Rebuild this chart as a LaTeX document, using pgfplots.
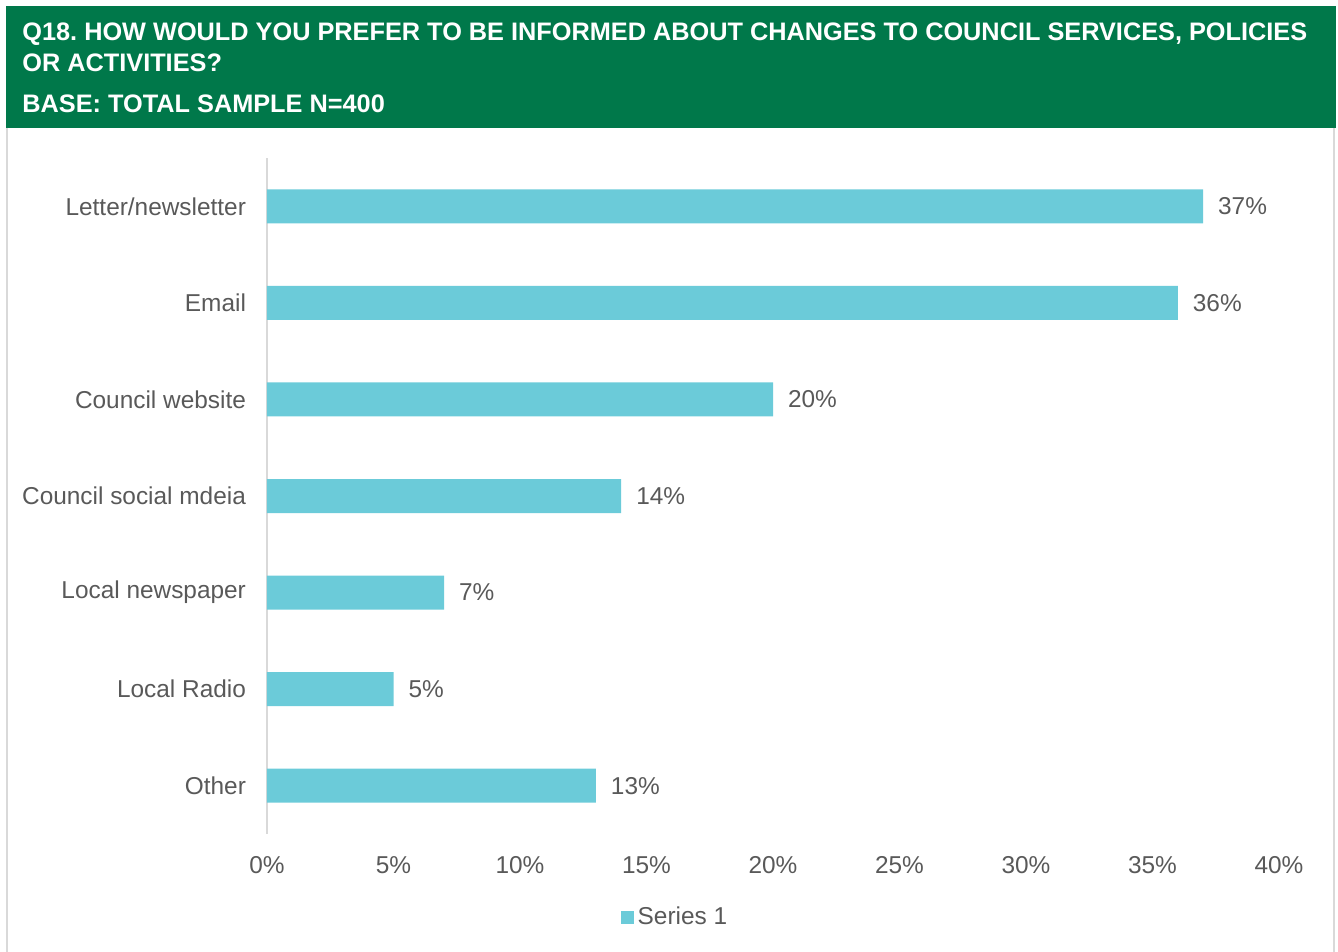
\documentclass[border=0pt]{standalone}
\usepackage{pgfplots}
\pgfplotsset{compat=1.18}
\usepackage{fontspec}
\setmainfont{Liberation Sans}
\frenchspacing
\definecolor{hdr}{HTML}{00784A}
\definecolor{barc}{HTML}{6BCBD9}
\definecolor{txt}{HTML}{595959}
\definecolor{frame}{HTML}{D9D9D9}
\begin{document}
\begin{tikzpicture}
\path[use as bounding box] (0pt,0pt) rectangle (669pt,476pt);
\fill[hdr] (3pt,473pt) rectangle (668pt,412pt);
\draw[frame, line width=0.8pt] (3.4pt,412pt) -- (3.4pt,0pt);
\draw[frame, line width=0.8pt] (667pt,412pt) -- (667pt,0pt);
\node[anchor=base west, inner sep=0, text=white, font=\bfseries\fontsize{12.65}{14}\selectfont] at (11pt,455.5pt) {Q18. HOW WOULD YOU PREFER TO BE INFORMED ABOUT CHANGES TO COUNCIL SERVICES, POLICIES};
\node[anchor=base west, inner sep=0, text=white, font=\bfseries\fontsize{12.65}{14}\selectfont] at (11pt,440pt) {OR ACTIVITIES?};
\node[anchor=base west, inner sep=0, text=white, font=\bfseries\fontsize{12.65}{14}\selectfont] at (11pt,419.5pt) {BASE: TOTAL SAMPLE N=400};
\begin{axis}[
  at={(133.5pt,59pt)}, anchor=south west,
  scale only axis, width=506pt, height=338pt,
  xbar, bar width=17pt,
  xmin=0, xmax=40, ymin=-0.5, ymax=6.5,
  y dir=reverse,
  ytick={0,1,2,3,4,5,6},
  yticklabels={Letter/newsletter,Email,Council website,Council social mdeia,Local newspaper,Local Radio,Other},
  xtick={0,5,...,40},
  xticklabel={\pgfmathprintnumber{\tick}\%},
  /pgf/number format/assume math mode=true,
  axis x line*=bottom, axis y line*=left,
  x axis line style={draw=none},
  y axis line style={draw=frame, line width=0.8pt},
  major tick length=0pt,
  tick label style={font=\fontsize{12.2}{14}\selectfont, text=txt},
  yticklabel style={xshift=-7pt},
  xticklabel style={yshift=-7.5pt},
  nodes near coords={\pgfmathprintnumber{\pgfplotspointmeta}\%},
  nodes near coords style={font=\fontsize{12.2}{14}\selectfont, text=txt, anchor=west, xshift=4pt},
  legend style={at={(0.404,-0.123)}, anchor=center, draw=none, font=\fontsize{12.2}{14}\selectfont, text=txt, inner sep=0pt},
  legend image code/.code={\fill[#1] (0pt,-3.3pt) rectangle (6.6pt,3.3pt);},
  legend cell align=left,
]
\addplot[fill=barc, draw=none] coordinates {(37,0) (36,1) (20,2) (14,3) (7,4) (5,5) (13,6)};
\addlegendentry{Series 1}
\end{axis}
\end{tikzpicture}
\end{document}
